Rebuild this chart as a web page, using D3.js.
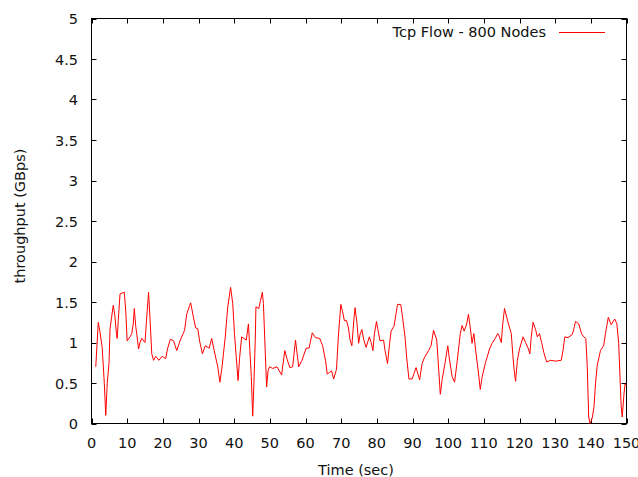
<!DOCTYPE html>
<html><head><meta charset="utf-8">
<script src="https://cdn.jsdelivr.net/npm/d3@7/dist/d3.min.js"></script>
<style>body{margin:0;background:#fff}svg{display:block}text{font-family:"DejaVu Sans",sans-serif;font-size:14.5px;fill:#111}</style>
</head><body>
<script>
const times = [1.2,1.9,2.3,3.0,3.6,4.0,4.4,4.9,5.2,5.6,6.1,6.5,7.0,7.2,7.5,8.0,9.2,9.6,10.0,10.8,11.3,11.7,12.0,12.4,12.7,13.2,13.6,14.1,15.0,15.4,16.0,16.4,16.9,17.4,18.0,18.9,19.8,20.8,21.3,22.1,23.0,23.9,24.9,26.1,26.7,27.4,27.8,28.5,29.2,29.8,30.3,31.1,31.9,33.0,33.7,34.4,35.4,36.0,36.6,37.5,38.2,39.0,39.6,40.1,40.6,41.1,41.5,42.1,42.7,43.4,44.0,44.2,44.8,45.2,45.5,45.9,46.1,46.9,47.4,47.9,48.2,48.7,49.1,49.5,49.9,50.8,52.0,53.3,54.2,54.8,55.6,56.4,57.2,57.6,58.1,59.0,60.2,61.0,61.9,62.8,64.0,64.8,65.6,66.1,66.7,67.3,67.9,68.7,69.2,69.6,69.9,70.4,70.9,71.5,72.0,72.5,73.0,73.6,73.9,74.4,74.9,75.3,75.8,76.3,77.0,77.9,78.4,78.9,79.3,79.9,80.3,80.9,81.9,82.3,83.0,83.6,84.0,84.8,85.3,85.8,86.7,87.1,87.9,88.4,89.0,89.9,91.0,92.0,92.7,93.3,94.5,95.2,95.9,96.8,97.3,97.8,98.3,99.1,99.9,100.3,101.1,101.8,102.5,103.4,103.9,104.5,105.2,105.7,106.2,106.7,107.2,107.8,108.4,109.0,109.5,110.4,111.6,112.3,113.2,113.9,114.3,114.9,115.3,115.8,116.2,116.9,117.7,118.1,118.5,118.9,119.4,120.0,121.0,121.7,122.5,122.9,123.3,123.8,124.5,125.0,125.6,126.2,126.8,127.6,128.7,130.1,131.7,132.2,132.7,133.6,134.8,135.2,135.7,136.6,137.4,138.0,138.6,139.0,139.4,139.8,140.4,140.9,141.3,141.8,142.7,143.6,144.1,144.9,145.7,146.7,147.3,147.8,148.1,148.5,148.8,149.3,149.6,150.0];
const throughput = [0.70,1.25,1.15,0.94,0.49,0.10,0.49,0.74,1.17,1.30,1.46,1.35,1.11,1.05,1.27,1.60,1.62,1.39,1.02,1.07,1.11,1.23,1.42,1.20,1.10,0.92,1.00,1.05,1.00,1.26,1.62,1.30,0.86,0.78,0.83,0.78,0.83,0.80,0.92,1.04,1.02,0.90,1.03,1.15,1.35,1.44,1.49,1.33,1.18,1.17,1.02,0.86,0.96,0.93,1.05,0.90,0.70,0.51,0.70,1.07,1.44,1.68,1.48,1.10,0.81,0.53,0.80,1.07,1.05,1.03,1.23,1.07,0.58,0.09,0.45,1.00,1.44,1.42,1.52,1.62,1.48,0.90,0.45,0.65,0.70,0.68,0.70,0.60,0.90,0.80,0.69,0.70,1.03,0.88,0.70,0.78,0.93,0.93,1.12,1.06,1.05,0.96,0.78,0.61,0.63,0.65,0.55,0.67,1.07,1.30,1.47,1.38,1.27,1.27,1.19,1.03,0.96,1.30,1.43,1.25,0.99,1.10,1.16,1.04,0.94,1.07,1.00,0.90,1.10,1.26,1.16,1.02,1.03,0.90,0.74,1.00,1.14,1.20,1.33,1.47,1.47,1.35,1.07,0.80,0.55,0.55,0.69,0.54,0.74,0.81,0.90,0.96,1.15,1.03,0.70,0.36,0.54,0.74,0.96,0.81,0.58,0.51,0.76,1.11,1.21,1.14,1.23,1.35,1.18,0.99,1.11,0.87,0.66,0.42,0.57,0.74,0.92,0.99,1.05,1.11,1.08,1.00,1.23,1.42,1.35,1.23,1.11,0.86,0.66,0.52,0.78,0.92,1.07,1.00,0.92,0.86,1.07,1.25,1.16,1.07,1.11,1.00,0.88,0.76,0.78,0.77,0.78,0.90,1.07,1.06,1.10,1.16,1.26,1.23,1.11,1.07,1.05,0.70,0.08,0.00,0.07,0.21,0.49,0.72,0.90,0.96,1.11,1.31,1.22,1.29,1.23,1.00,0.66,0.22,0.08,0.37,0.49,0.47];
const xTicks = [0,10,20,30,40,50,60,70,80,90,100,110,120,130,140,150];
const yTicks = [0,0.5,1,1.5,2,2.5,3,3.5,4,4.5,5];
const seriesName = "Tcp Flow - 800 Nodes";
const xTitle = "Time (sec)";
const yTitle = "throughput (GBps)";

const W = 638, H = 477;
const L = 91.5, R = 626.5, T = 18.5, B = 423.5;
const svg = d3.select("body").append("svg").attr("width", W).attr("height", H);
const x = d3.scaleLinear().domain([0,150]).range([L,R]);
const y = d3.scaleLinear().domain([0,5]).range([B,T]);
const tk = 5;

const g = svg.append("g");
xTicks.forEach(v => {
  const px = Math.round(x(v)) + 0.5;
  g.append("line").attr("x1",px).attr("x2",px).attr("y1",B).attr("y2",B-tk).attr("stroke","#000");
  g.append("line").attr("x1",px).attr("x2",px).attr("y1",T).attr("y2",T+tk).attr("stroke","#000");
  g.append("text").attr("x",x(v)).attr("y",448).attr("text-anchor","middle").text(d3.format("")(v));
});
yTicks.forEach(v => {
  const py = Math.round(y(v)) + 0.5;
  g.append("line").attr("x1",L).attr("x2",L+tk).attr("y1",py).attr("y2",py).attr("stroke","#000");
  g.append("line").attr("x1",R).attr("x2",R-tk).attr("y1",py).attr("y2",py).attr("stroke","#000");
  g.append("text").attr("x",78).attr("y",y(v)+5.5).attr("text-anchor","end").text(d3.format("")(v));
});
g.append("rect").attr("x",L).attr("y",T).attr("width",R-L).attr("height",B-T).attr("fill","none").attr("stroke","#000");

const data = times.map((t,i)=>[t,throughput[i]]);
svg.append("path").datum(data).attr("fill","none").attr("stroke","#ff0000").attr("stroke-width",1)
  .attr("d", d3.line().x(d=>x(d[0])).y(d=>y(d[1])));

svg.append("text").attr("x",546).attr("y",37).attr("text-anchor","end").text(seriesName);
svg.append("line").attr("x1",559).attr("x2",605).attr("y1",32.5).attr("y2",32.5).attr("stroke","#ff0000");

svg.append("text").attr("x",356).attr("y",475).attr("text-anchor","middle").text(xTitle);
svg.append("text").attr("transform","translate(25,216) rotate(-90)").attr("text-anchor","middle").text(yTitle);
</script>
</body></html>
